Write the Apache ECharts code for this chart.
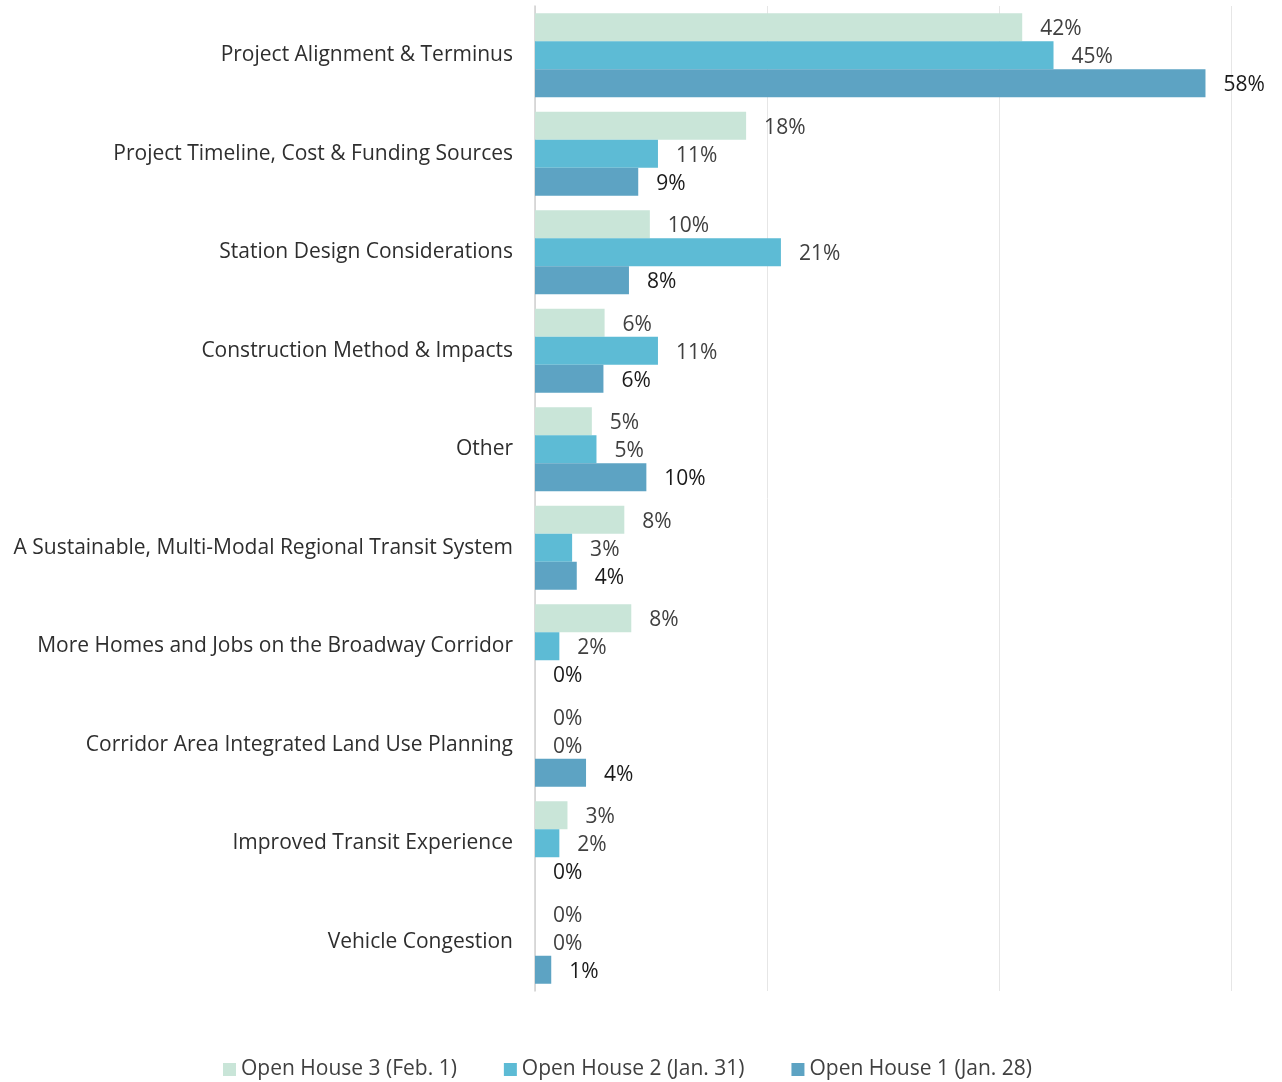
<!DOCTYPE html>
<html><head><meta charset="utf-8">
<script src="https://cdn.jsdelivr.net/npm/echarts@6/dist/echarts.min.js"></script>
<style>html,body{margin:0;padding:0;background:#fff}#c{width:1282px;height:1082px}</style>
</head><body><div id="c"></div>
<script>
const categories = [
  'Project Alignment & Terminus',
  'Project Timeline, Cost & Funding Sources',
  'Station Design Considerations',
  'Construction Method & Impacts',
  'Other',
  'A Sustainable, Multi-Modal Regional Transit System',
  'More Homes and Jobs on the Broadway Corridor',
  'Corridor Area Integrated Land Use Planning',
  'Improved Transit Experience',
  'Vehicle Congestion'
];
const seriesNames = ['Open House 3 (Feb. 1)', 'Open House 2 (Jan. 31)', 'Open House 1 (Jan. 28)'];
const openHouse3 = [42.0, 18.2, 9.9, 6.0, 4.9, 7.7, 8.3, 0, 2.8, 0];
const openHouse2 = [44.7, 10.6, 21.2, 10.6, 5.3, 3.2, 2.1, 0, 2.1, 0];
const openHouse1 = [57.8, 8.9, 8.1, 5.9, 9.6, 3.6, 0, 4.4, 0, 1.4];
const xTicks = [0, 20, 40, 60];

const FONT = '"Open Sans", "Noto Sans", sans-serif';
const colors = ['#C9E5D8', '#5DBBD5', '#5DA3C3'];
const labelColors = ['#404040', '#404040', '#1a1a1a'];
const data = [openHouse3, openHouse2, openHouse1];

const chart = echarts.init(document.getElementById('c'));
chart.setOption({
  animation: false,
  textStyle: { fontFamily: FONT },
  grid: { left: 535, right: 51, top: 6, bottom: 91, containLabel: false },
  xAxis: {
    type: 'value', min: xTicks[0], max: xTicks[xTicks.length - 1], interval: 20,
    axisLabel: { show: false }, axisLine: { show: false }, axisTick: { show: false },
    splitLine: { lineStyle: { color: '#e6e6e6', width: 1 } }
  },
  yAxis: {
    type: 'category', data: categories, inverse: true,
    axisLine: { lineStyle: { color: '#d0d0d0', width: 1.5 } },
    axisTick: { show: false },
    axisLabel: { fontFamily: FONT, fontSize: 21, color: '#2e2e2e', margin: 22, padding: [4, 0, 0, 0] }
  },
  legend: {
    top: 1059, left: 223, itemWidth: 13, itemHeight: 13, itemGap: 47,
    icon: 'rect', padding: 0,
    textStyle: { fontFamily: FONT, fontSize: 21, color: '#404040' },
    data: seriesNames
  },
  series: seriesNames.map((n, i) => ({
    name: n, type: 'bar', data: data[i], barWidth: 28, barGap: '0%',
    itemStyle: { color: colors[i] },
    label: {
      show: true, position: 'right', distance: 18, offset: [0, 2],
      fontFamily: FONT, fontSize: 21, color: labelColors[i],
      formatter: p => Math.round(p.value) + '%'
    }
  }))
});
</script></body></html>
